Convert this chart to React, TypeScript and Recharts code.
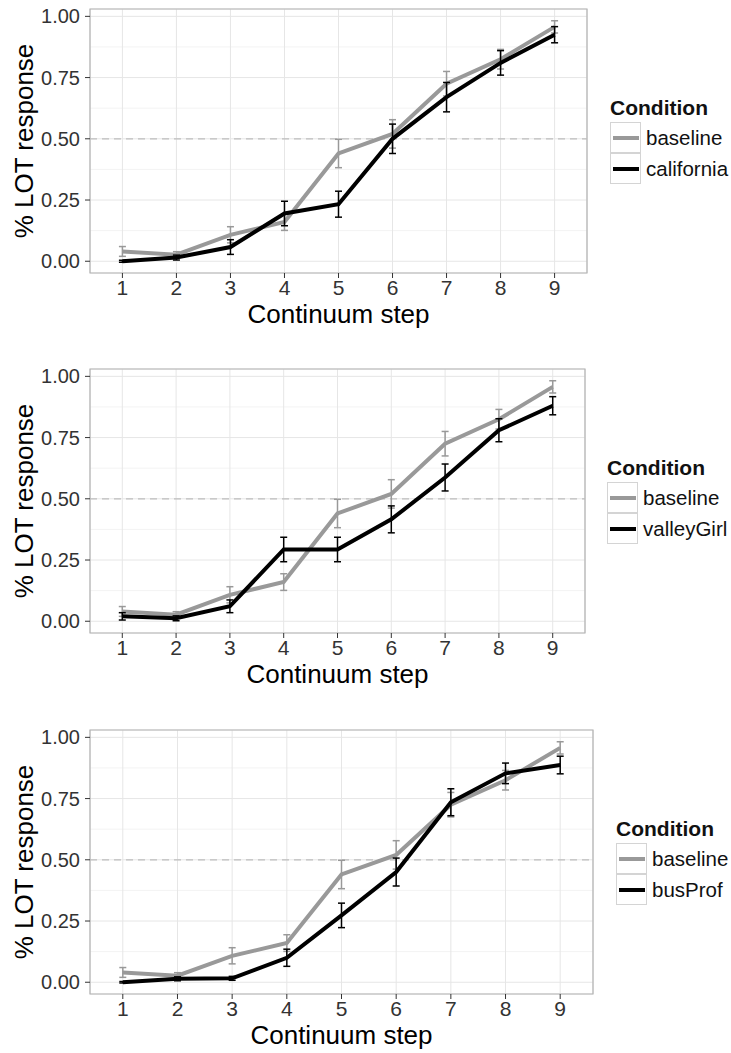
import React from "react";
import {
	LineChart,
	Line,
	XAxis,
	YAxis,
	CartesianGrid,
	ReferenceLine,
	ReferenceArea,
	ErrorBar,
	Legend,
	Label,
} from "recharts";

const steps = [1, 2, 3, 4, 5, 6, 7, 8, 9];
const yTicks = [0, 0.25, 0.5, 0.75, 1];
const yMinor = [0.125, 0.375, 0.625, 0.875];

const baseline = [0.04, 0.027, 0.108, 0.16, 0.44, 0.52, 0.725, 0.825, 0.957];
const baselineErr = [0.02, 0.012, 0.033, 0.034, 0.058, 0.058, 0.05, 0.04, 0.025];

const california = [0.0, 0.015, 0.058, 0.195, 0.233, 0.5, 0.67, 0.81, 0.925];
const californiaErr = [0.004, 0.01, 0.03, 0.05, 0.053, 0.06, 0.06, 0.05, 0.033];

const valleyGirl = [0.02, 0.012, 0.061, 0.293, 0.293, 0.416, 0.587, 0.78, 0.88];
const valleyGirlErr = [0.015, 0.01, 0.026, 0.05, 0.05, 0.055, 0.055, 0.047, 0.037];

const busProf = [0.0, 0.014, 0.016, 0.1, 0.273, 0.45, 0.735, 0.853, 0.887];
const busProfErr = [0.003, 0.008, 0.008, 0.035, 0.05, 0.057, 0.055, 0.042, 0.036];

const FONT = "'Liberation Sans', Arial, Helvetica, sans-serif";
const GREY = "#999999";

const YTitle = (props: any) => {
	const vb = props.viewBox || {};
	const cy = vb.y + vb.height / 2;
	return (
		<text
			x={33}
			y={cy}
			transform={`rotate(-90, 33, ${cy})`}
			textAnchor="middle"
			fontSize={26}
			fontFamily={FONT}
			fill="#000">
			% LOT response
		</text>
	);
};

const makeLegend = (condName: string) => () => (
	<div style={{ fontFamily: FONT, color: "#111" }}>
		<div style={{ fontSize: 21, fontWeight: "bold", lineHeight: "24px", marginBottom: 2 }}>Condition</div>
		{[
			{ name: "baseline", color: GREY },
			{ name: condName, color: "#000" },
		].map((it) => (
			<div key={it.name} style={{ display: "flex", alignItems: "center", height: 31 }}>
				<div
					style={{
						width: 31,
						height: 31,
						boxSizing: "border-box",
						border: "1px solid #d4d4d4",
						display: "flex",
						alignItems: "center",
						justifyContent: "center",
					}}>
					<svg width={26} height={6}>
						<line x1={0} y1={3} x2={26} y2={3} stroke={it.color} strokeWidth={4} />
					</svg>
				</div>
				<span style={{ fontSize: 20.5, marginLeft: 5, whiteSpace: "nowrap" }}>{it.name}</span>
			</div>
		))}
	</div>
);

interface PanelProps {
	top: number;
	right: number;
	legendLeft: number;
	cond: number[];
	condErr: number[];
	condName: string;
}

const Panel = ({ top, right, legendLeft, cond, condErr, condName }: PanelProps) => {
	const data = steps.map((s, i) => ({
		step: s,
		baseline: baseline[i],
		baselineErr: baselineErr[i],
		cond: cond[i],
		condErr: condErr[i],
	}));
	return (
		<div style={{ position: "absolute", left: 0, top }}>
			<LineChart width={731} height={331} data={data} margin={{ top: 9, right, left: 0, bottom: 8 }}>
				<CartesianGrid horizontalValues={yMinor} vertical={false} stroke="#f3f3f3" strokeWidth={1} />
				<CartesianGrid stroke="#e6e6e6" strokeWidth={1} />
				<ReferenceLine y={0.5} stroke="#bdbdbd" strokeDasharray="7 5" strokeWidth={1.2} />
				<XAxis
					type="number"
					dataKey="step"
					domain={[0.4, 9.6]}
					ticks={steps}
					interval={0}
					allowDataOverflow
					height={50}
					axisLine={false}
					tickSize={5}
					tickMargin={2}
					tickLine={{ stroke: "#333" }}
					tick={{ fontSize: 21, fill: "#333", fontFamily: FONT }}>
					<Label
						value="Continuum step"
						position="insideBottom"
						offset={0}
						style={{ fontSize: 26, fill: "#000", fontFamily: FONT }}
					/>
				</XAxis>
				<YAxis
					type="number"
					domain={[-0.048, 1.03]}
					ticks={yTicks}
					interval={0}
					allowDataOverflow
					width={90}
					axisLine={false}
					tickSize={5}
					tickMargin={5}
					tickLine={{ stroke: "#333" }}
					tickFormatter={(v: number) => v.toFixed(2)}
					tick={{ fontSize: 20, fill: "#333", fontFamily: FONT }}>
					<Label content={<YTitle />} />
				</YAxis>
				<Line
					type="linear"
					dataKey="baseline"
					name="baseline"
					stroke={GREY}
					strokeWidth={4}
					dot={false}
					activeDot={false}
					isAnimationActive={false}>
					<ErrorBar dataKey="baselineErr" width={3.5} stroke={GREY} strokeWidth={1.5} direction="y" />
				</Line>
				<Line
					type="linear"
					dataKey="cond"
					name={condName}
					stroke="#000"
					strokeWidth={4}
					dot={false}
					activeDot={false}
					isAnimationActive={false}>
					<ErrorBar dataKey="condErr" width={3.5} stroke="#000" strokeWidth={1.5} direction="y" />
				</Line>
				<ReferenceArea
					x1={0.4}
					x2={9.6}
					y1={-0.048}
					y2={1.03}
					fill="none"
					stroke="#b3b3b3"
					strokeWidth={1.2}
					ifOverflow="visible"
				/>
				<Legend
					layout="vertical"
					align="center"
					verticalAlign="middle"
					content={makeLegend(condName)}
					wrapperStyle={{ left: legendLeft, top: 96, width: 130 }}
				/>
			</LineChart>
		</div>
	);
};

const App = () => {
	return (
		<div style={{ position: "absolute", left: 0, top: 0, width: 731, height: 1053, background: "#fff" }}>
			<Panel top={0} right={144} legendLeft={610} cond={california} condErr={californiaErr} condName="california" />
			<Panel top={360} right={146} legendLeft={607} cond={valleyGirl} condErr={valleyGirlErr} condName="valleyGirl" />
			<Panel top={721} right={138} legendLeft={616} cond={busProf} condErr={busProfErr} condName="busProf" />
		</div>
	);
};

export default App;
